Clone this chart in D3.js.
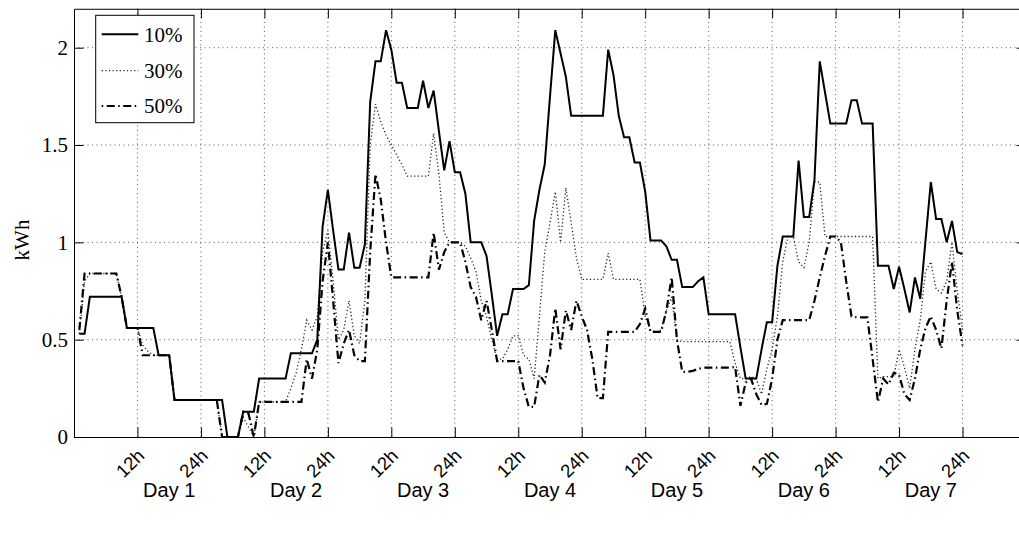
<!DOCTYPE html>
<html><head><meta charset="utf-8">
<script src="https://cdn.jsdelivr.net/npm/d3@7"></script>
<style>
html,body{margin:0;padding:0;background:#fff;}
svg{display:block;}
</style></head>
<body>
<svg id="chart" width="1019" height="534"></svg>
<script>
// ---- data (hourly values, hours 1..168) ----
const hours = d3.range(1, 169);
const series10 = [
 0.53,0.53,0.72,0.72,0.72,0.72,0.72,0.72,0.72,0.56,0.56,0.56,
 0.56,0.56,0.56,0.42,0.42,0.42,0.19,0.19,0.19,0.19,0.19,0.19,
 0.19,0.19,0.19,0.19,0,0,0,0.13,0.13,0.13,0.30,0.30,
 0.30,0.30,0.30,0.30,0.43,0.43,0.43,0.43,0.43,0.50,1.08,1.27,
 1.06,0.86,0.86,1.05,0.87,0.87,0.99,1.72,1.93,1.93,2.09,1.99,
 1.82,1.82,1.69,1.69,1.69,1.83,1.69,1.78,1.57,1.37,1.52,1.36,
 1.36,1.25,1.00,1.00,1.00,0.93,0.73,0.52,0.63,0.63,0.76,0.76,
 0.76,0.78,1.11,1.27,1.40,1.75,2.09,1.97,1.85,1.65,1.65,1.65,
 1.65,1.65,1.65,1.65,1.99,1.86,1.65,1.54,1.54,1.41,1.41,1.26,
 1.01,1.01,1.01,0.98,0.91,0.91,0.77,0.77,0.77,0.80,0.82,0.63,
 0.63,0.63,0.63,0.63,0.63,0.46,0.30,0.30,0.30,0.45,0.59,0.59,
 0.88,1.03,1.03,1.03,1.42,1.13,1.13,1.32,1.93,1.77,1.61,1.61,
 1.61,1.61,1.73,1.73,1.61,1.61,1.61,0.88,0.88,0.88,0.76,0.875,
 0.76,0.64,0.82,0.71,1.01,1.31,1.12,1.12,1.00,1.11,0.95,0.94
];
const series30 = [
 0.53,0.80,0.84,0.84,0.84,0.84,0.84,0.84,0.72,0.56,0.56,0.56,
 0.47,0.44,0.42,0.42,0.42,0.42,0.19,0.19,0.19,0.19,0.19,0.19,
 0.19,0.19,0.19,0,0,0,0,0.10,0.05,0,0.18,0.18,
 0.18,0.18,0.18,0.18,0.25,0.33,0.45,0.60,0.55,0.62,0.95,1.06,
 0.80,0.50,0.55,0.70,0.52,0.48,0.70,1.50,1.71,1.62,1.55,1.50,
 1.45,1.40,1.34,1.34,1.34,1.34,1.34,1.56,1.35,1.05,1.00,1.00,
 1.00,0.98,0.92,0.85,0.70,0.62,0.50,0.40,0.40,0.45,0.52,0.52,
 0.42,0.40,0.30,0.62,0.95,1.10,1.26,1.00,1.28,1.10,0.92,0.81,
 0.81,0.81,0.81,0.81,0.945,0.81,0.81,0.81,0.81,0.81,0.81,0.62,
 0.55,0.54,0.55,0.65,0.72,0.50,0.49,0.49,0.49,0.49,0.49,0.49,
 0.49,0.49,0.49,0.49,0.38,0.30,0.30,0.31,0.30,0.22,0.35,0.45,
 0.62,0.90,1.03,1.03,0.90,0.87,1.00,1.31,1.31,1.03,1.03,1.03,
 1.03,1.03,1.03,1.03,1.03,1.03,1.03,0.30,0.31,0.31,0.31,0.45,
 0.36,0.25,0.45,0.60,0.85,0.90,0.76,0.74,0.80,1.00,0.75,0.55
];
const series50 = [
 0.55,0.84,0.84,0.84,0.84,0.84,0.84,0.84,0.72,0.56,0.56,0.56,
 0.42,0.42,0.42,0.42,0.42,0.42,0.19,0.19,0.19,0.19,0.19,0.19,
 0.19,0.19,0.19,0,0,0,0,0.13,0.12,0,0.18,0.18,
 0.18,0.18,0.18,0.18,0.18,0.18,0.18,0.40,0.30,0.45,0.80,1.00,
 0.70,0.38,0.48,0.55,0.42,0.39,0.39,0.95,1.35,1.22,1.00,0.82,
 0.82,0.82,0.82,0.82,0.82,0.82,0.82,1.05,0.86,0.95,1.00,1.00,
 1.00,0.90,0.77,0.72,0.60,0.70,0.55,0.39,0.39,0.39,0.39,0.39,
 0.25,0.155,0.155,0.32,0.28,0.42,0.66,0.45,0.65,0.55,0.70,0.62,
 0.55,0.40,0.20,0.20,0.54,0.54,0.54,0.54,0.54,0.54,0.58,0.66,
 0.54,0.54,0.54,0.65,0.82,0.50,0.335,0.335,0.34,0.35,0.356,0.356,
 0.356,0.356,0.356,0.356,0.36,0.16,0.28,0.30,0.22,0.165,0.17,0.30,
 0.50,0.60,0.60,0.60,0.60,0.60,0.60,0.70,0.82,0.93,1.03,1.03,
 1.00,0.80,0.62,0.615,0.615,0.615,0.40,0.18,0.30,0.27,0.33,0.32,
 0.22,0.19,0.30,0.45,0.56,0.62,0.55,0.455,0.70,0.90,0.65,0.47
];
const seriesNames = ["10%", "30%", "50%"];
const xTickValues = [12,24,36,48,60,72,84,96,108,120,132,144,156,168];
const xTickLabels = ["12h","24h","12h","24h","12h","24h","12h","24h","12h","24h","12h","24h","12h","24h"];
const dayLabels = ["Day 1","Day 2","Day 3","Day 4","Day 5","Day 6","Day 7"];
const dayCenters = [18,42,66,90,114,138,162];
const yTickValues = [0,0.5,1,1.5,2];
const yTickLabels = ["0","0.5","1","1.5","2"];

// ---- layout ----
const svg = d3.select("#chart");
const left = 74, bottom = 437, pxPerHour = 5.289, pxPerUnit = 194.65;
const x = d3.scaleLinear().domain([0,180]).range([left, left + 180*pxPerHour]);
const y = d3.scaleLinear().domain([0,2.2]).range([bottom, bottom - 2.2*pxPerUnit]);
const tickLen = 9.5;
const serif = "'Liberation Serif','Times New Roman',serif";
const sans = "'Liberation Sans',Arial,sans-serif";

// background
svg.append("rect").attr("width",1019).attr("height",534).attr("fill","#fff");

// grid
const grid = svg.append("g").attr("stroke","#333").attr("stroke-width",0.8).attr("stroke-dasharray","1,3.5");
grid.selectAll("line.v").data(xTickValues).join("line")
  .attr("x1",d=>x(d)).attr("x2",d=>x(d)).attr("y1",y(0)).attr("y2",y(2.2));
grid.selectAll("line.h").data(yTickValues.filter(d=>d>0)).join("line")
  .attr("x1",x(0)).attr("x2",x(180)).attr("y1",d=>y(d)).attr("y2",d=>y(d));

// series
const line = d3.line().x((d,i)=>x(hours[i])).y(d=>y(d));
const plot = svg.append("g").attr("fill","none").attr("stroke-linejoin","miter");
plot.append("path").datum(series30).attr("d",line)
  .attr("stroke","#222").attr("stroke-width",1.3).attr("stroke-dasharray","1.2,2.4");
plot.append("path").datum(series50).attr("d",line)
  .attr("stroke","#000").attr("stroke-width",2.2).attr("stroke-dasharray","8,3.5,1.5,3.5");
plot.append("path").datum(series10).attr("d",line)
  .attr("stroke","#000").attr("stroke-width",2);

// axes with inward ticks
const axB = d3.axisBottom(x).tickValues(xTickValues).tickSizeInner(-tickLen).tickSizeOuter(0).tickFormat("");
const axT = d3.axisTop(x).tickValues(xTickValues).tickSizeInner(-tickLen).tickSizeOuter(0).tickFormat("");
const axL = d3.axisLeft(y).tickValues(yTickValues).tickSizeInner(-tickLen).tickSizeOuter(0).tickFormat("");
const axR = d3.axisRight(y).tickValues(yTickValues).tickSizeInner(-tickLen).tickSizeOuter(0).tickFormat("");
function styleAxis(g){ g.selectAll("path,line").attr("stroke","#000").attr("stroke-width",1); }
svg.append("g").attr("transform",`translate(0,${y(0)})`).call(axB).call(styleAxis);
svg.append("g").attr("transform",`translate(0,${y(2.2)})`).call(axT).call(styleAxis);
svg.append("g").attr("transform",`translate(${x(0)},0)`).call(axL).call(styleAxis);
svg.append("g").attr("transform",`translate(${x(180)},0)`).call(axR).call(styleAxis);

// y tick labels
svg.append("g").selectAll("text").data(yTickValues).join("text")
  .attr("x", x(0)-6).attr("y", d=>y(d)).attr("dy","0.35em")
  .attr("text-anchor","end").attr("font-family",serif).attr("font-size",21)
  .text((d,i)=>yTickLabels[i]);

// x tick labels, rotated
svg.append("g").selectAll("text").data(xTickValues).join("text")
  .attr("transform", d=>`translate(${x(d)+8},${y(0)+20}) rotate(-45)`)
  .attr("text-anchor","end").attr("font-family",sans).attr("font-size",18.5)
  .text((d,i)=>xTickLabels[i]);

// day labels
svg.append("g").selectAll("text").data(dayCenters).join("text")
  .attr("x", d=>x(d)).attr("y", 497)
  .attr("text-anchor","middle").attr("font-family",sans).attr("font-size",20)
  .text((d,i)=>dayLabels[i]);

// y label
svg.append("text").attr("transform","translate(29,240) rotate(-90)")
  .attr("text-anchor","middle").attr("font-family",serif).attr("font-size",21).text("kWh");

// legend
const lg = svg.append("g");
lg.append("rect").attr("x",95.7).attr("y",15.3).attr("width",98.3).attr("height",107.4)
  .attr("fill","#fff").attr("stroke","#000").attr("stroke-width",1);
const legStyles = [
  {stroke:"#000", w:2, dash:null},
  {stroke:"#222", w:1.3, dash:"1.2,2.4"},
  {stroke:"#000", w:2.2, dash:"1.5,3.5,8,3.5"}
];
const legY = [34.3, 70.7, 106];
seriesNames.forEach((n,i)=>{
  const l = lg.append("line").attr("x1",101.7).attr("x2",138.3).attr("y1",legY[i]).attr("y2",legY[i])
    .attr("stroke",legStyles[i].stroke).attr("stroke-width",legStyles[i].w);
  if (legStyles[i].dash) l.attr("stroke-dasharray",legStyles[i].dash);
  lg.append("text").attr("x",144).attr("y",legY[i]).attr("dy","0.35em")
    .attr("font-family",serif).attr("font-size",21).text(n);
});
</script>
</body></html>
